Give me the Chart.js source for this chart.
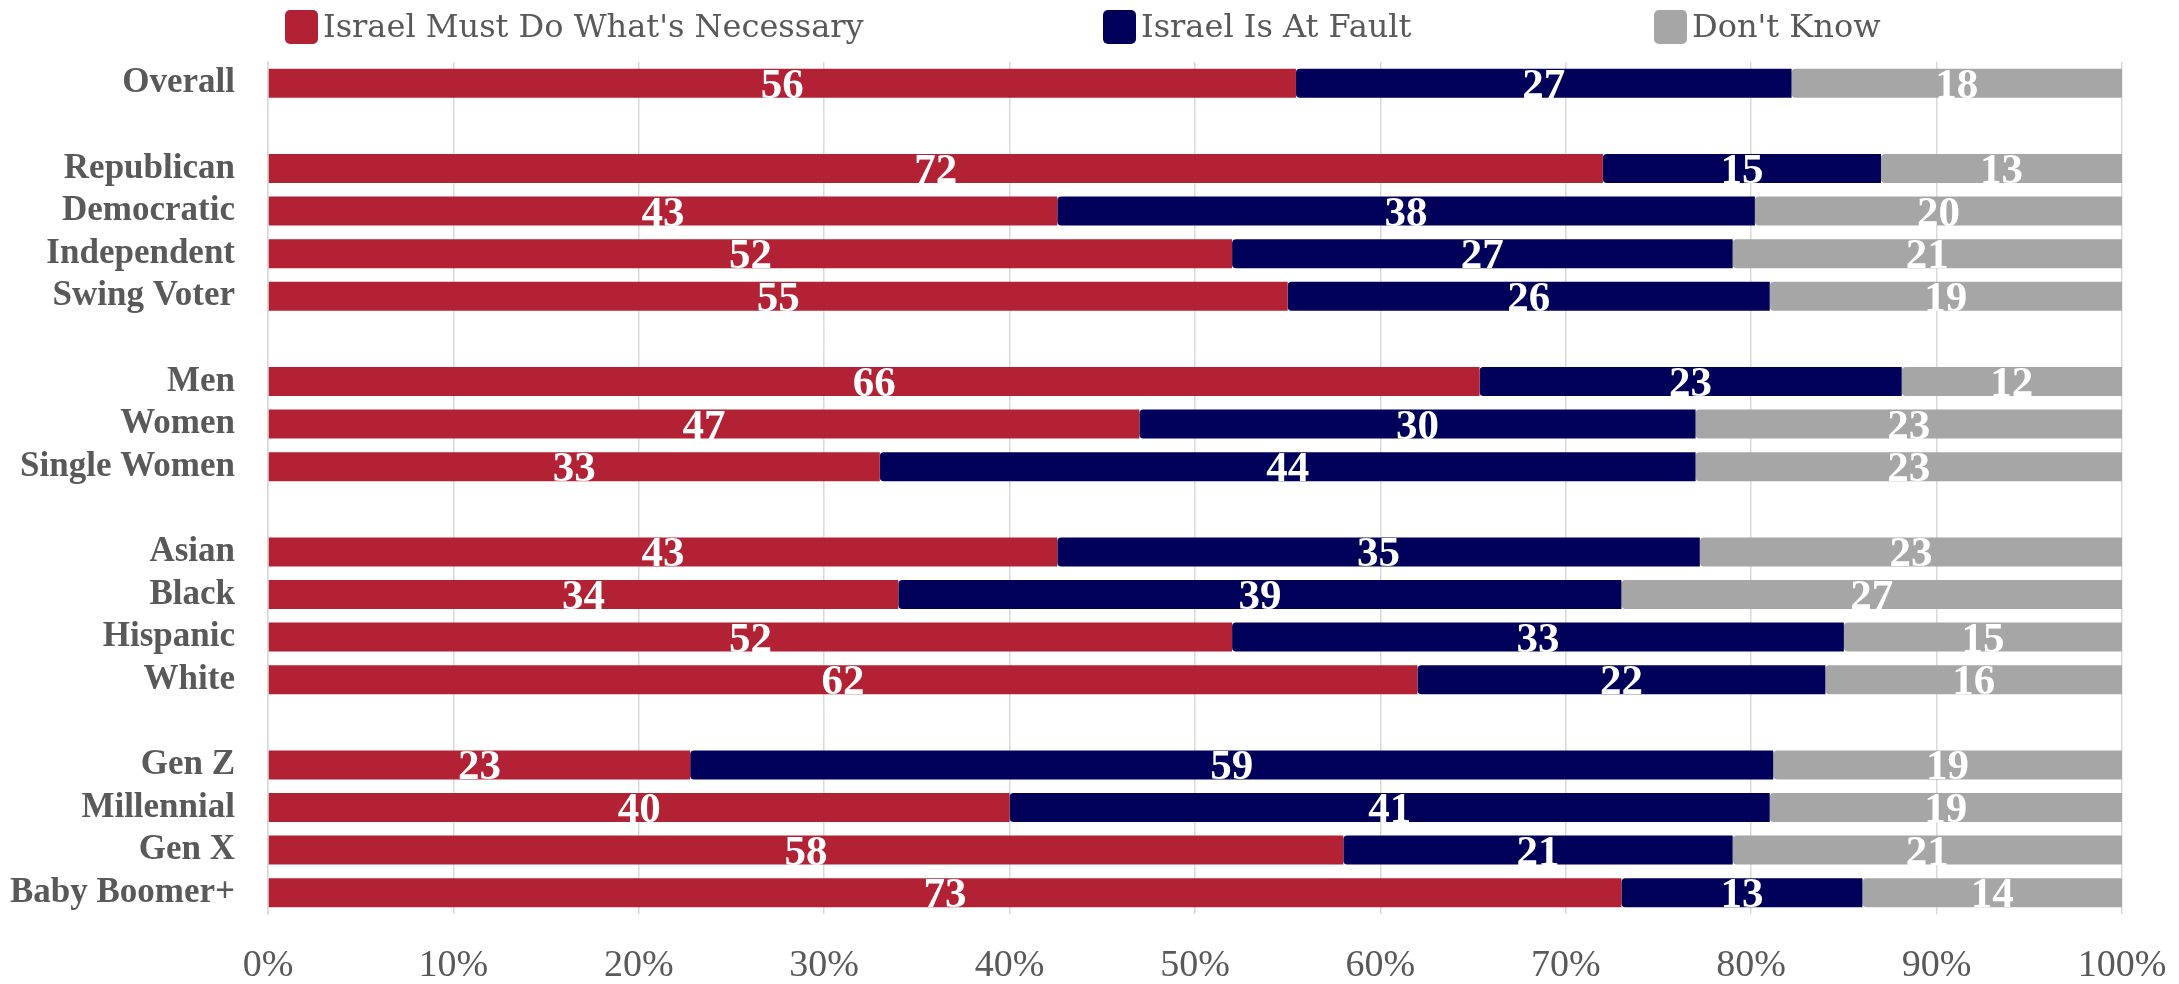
<!DOCTYPE html>
<html>
<head>
<meta charset="utf-8">
<script src="https://cdn.jsdelivr.net/npm/chart.js@4.4.0/dist/chart.umd.min.js"></script>
<style>
  html, body { margin: 0; padding: 0; background: #fff; }
</style>
</head>
<body>
<canvas id="chart" width="2179" height="984"></canvas>
<script>
// blank labels are the gaps between groups
const categories = [
  "Overall", "",
  "Republican", "Democratic", "Independent", "Swing Voter", "",
  "Men", "Women", "Single Women", "",
  "Asian", "Black", "Hispanic", "White", "",
  "Gen Z", "Millennial", "Gen X", "Baby Boomer+"
];
const seriesNames = ["Israel Must Do What's Necessary", "Israel Is At Fault", "Don't Know"];
const mustDo   = [56, null, 72, 43, 52, 55, null, 66, 47, 33, null, 43, 34, 52, 62, null, 23, 40, 58, 73];
const atFault  = [27, null, 15, 38, 27, 26, null, 23, 30, 44, null, 35, 39, 33, 22, null, 59, 41, 21, 13];
const dontKnow = [18, null, 13, 20, 21, 19, null, 12, 23, 23, null, 23, 27, 15, 16, null, 19, 19, 21, 14];
const xTicks = [0, 10, 20, 30, 40, 50, 60, 70, 80, 90, 100];

const colors = ["#B22234", "#00005A", "#A6A6A6"];
const FONT = "'Liberation Serif', 'Times New Roman', serif";
const LEGEND_FONT = "'DejaVu Serif', 'Liberation Serif', serif";
const raw = [mustDo, atFault, dontKnow];

// bars are scaled so each row fills 100%
function share(values, i) {
  if (values[i] == null) return null;
  const total = mustDo[i] + atFault[i] + dontKnow[i];
  return values[i] / total * 100;
}

const datasets = raw.map((values, d) => ({
  label: seriesNames[d],
  data: values.map((v, i) => share(values, i)),
  backgroundColor: colors[d],
  borderWidth: 0,
  borderSkipped: false,
  borderRadius: d === 0 ? 0 : { topLeft: 4, bottomLeft: 4, topRight: 0, bottomRight: 0 },
  barPercentage: 0.68,
  categoryPercentage: 1.0,
}));

const valueLabels = {
  id: "valueLabels",
  afterDatasetsDraw(chart) {
    const ctx = chart.ctx;
    ctx.save();
    ctx.fillStyle = "#fff";
    ctx.font = "bold 43px " + FONT;
    ctx.textAlign = "center";
    ctx.textBaseline = "alphabetic";
    chart.data.datasets.forEach((ds, d) => {
      chart.getDatasetMeta(d).data.forEach((bar, i) => {
        const v = raw[d][i];
        if (v == null) return;
        ctx.fillText(String(v), (bar.x + bar.base) / 2, bar.y + 14.5);
      });
    });
    ctx.restore();
  }
};

const topLegend = {
  id: "topLegend",
  afterDraw(chart) {
    const ctx = chart.ctx;
    const lefts = [285, 1103, 1654];
    ctx.save();
    ctx.font = "32px " + LEGEND_FONT;
    ctx.textBaseline = "alphabetic";
    ctx.textAlign = "left";
    chart.data.datasets.forEach((ds, d) => {
      const x = lefts[d];
      ctx.fillStyle = ds.backgroundColor;
      ctx.beginPath();
      ctx.roundRect(x, 10, 33, 34, 5);
      ctx.fill();
      ctx.fillStyle = "#595959";
      ctx.fillText(ds.label, x + 38, 37);
    });
    ctx.restore();
  }
};

new Chart(document.getElementById("chart"), {
  type: "bar",
  data: { labels: categories, datasets: datasets },
  options: {
    indexAxis: "y",
    responsive: false,
    animation: false,
    layout: { padding: { top: 62, right: 0, left: 0, bottom: 0 } },
    plugins: {
      legend: { display: false },
      tooltip: { enabled: false },
    },
    scales: {
      x: {
        stacked: true,
        min: 0,
        max: 100,
        afterBuildTicks(scale) {
          scale.ticks = xTicks.map(v => ({ value: v }));
        },
        afterFit(scale) {
          scale.height = 70;
          scale.paddingRight = 57;
          scale.paddingLeft = 0;
        },
        ticks: {
          callback: v => v + "%",
          color: "#595959",
          font: { family: FONT, size: 38 },
          padding: 29,
        },
        grid: { color: "#D9D9D9", lineWidth: 1.5, drawTicks: false },
        border: { display: false },
      },
      y: {
        stacked: true,
        afterFit(scale) {
          scale.width = 268;
          scale.paddingTop = 0;
          scale.paddingBottom = 0;
        },
        ticks: {
          color: "#595959",
          font: { family: FONT, size: 35, weight: "bold" },
          padding: 33,
          autoSkip: false,
        },
        grid: { display: false, drawTicks: false },
        border: { color: "#D9D9D9", width: 1.5 },
      },
    },
  },
  plugins: [valueLabels, topLegend],
});
</script>
</body>
</html>
